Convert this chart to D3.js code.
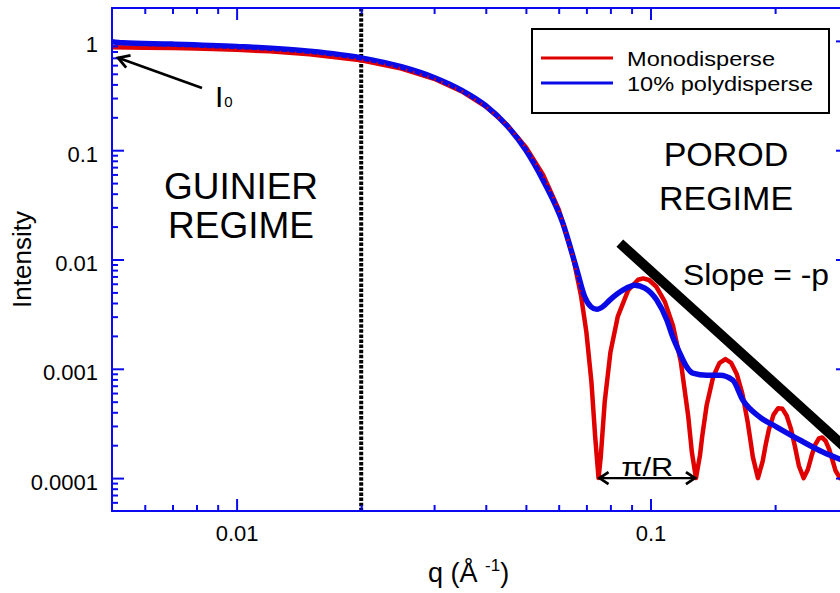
<!DOCTYPE html>
<html><head><meta charset="utf-8">
<script src="https://cdn.jsdelivr.net/npm/d3@7"></script>
<style>
html,body{margin:0;padding:0;background:#fff;}
svg{display:block;font-family:"Liberation Sans",Arial,sans-serif;}
</style></head>
<body>
<svg id="chart" width="840" height="593"></svg>
<script>
// ---------- data ----------
const monoQ = [0.005,0.006,0.007,0.008,0.010,0.012,0.015,0.020,0.025,0.030,0.035,0.040,0.045,0.050,0.055,0.060,0.065,0.068,0.070,0.072,0.0735,0.07489,0.07583,0.0775,0.080,0.08333,0.08833,0.09333,0.096,0.09917,0.10333,0.10833,0.11333,0.11833,0.12333,0.125,0.12583,0.12876,0.13167,0.13333,0.13667,0.14167,0.14667,0.15167,0.15667,0.16167,0.16667,0.17167,0.175,0.17667,0.18174,0.18667,0.19,0.19333,0.19833,0.20333,0.20833,0.21333,0.21833,0.22333,0.22833,0.23444,0.24,0.245,0.25,0.255,0.26,0.265,0.27,0.275,0.28,0.28701,0.29333,0.30];
const monoI = [0.8743,0.8673,0.8592,0.8500,0.8280,0.8026,0.7555,0.6633,0.5589,0.4504,0.3456,0.2507,0.1702,0.1064,0.05974,0.02866,0.01056,0.004575,0.002158,0.000752,0.000240,0.0001,0.000157,0.000497,0.001413,0.002997,0.005238,0.006527,0.006709,0.006491,0.005629,0.004094,0.002478,0.001167,0.0003686,0.0002237,0.0001736,0.0001,0.0001612,0.0002417,0.000465,0.0008432,0.001127,0.001228,0.001131,0.0008899,0.0005932,0.0003264,0.0002008,0.0001564,0.0001,0.0001429,0.0002065,0.0002809,0.0003805,0.0004353,0.0004301,0.000372,0.0002838,0.0001946,0.000129,0.0001,0.0001199,0.00016,0.000202,0.0002302,0.0002355,0.0002178,0.0001845,0.0001472,0.0001167,0.0001,0.0001114,0.0001376];

const polyQ = [0.005,0.0053,0.007,0.010,0.015,0.020,0.025,0.030,0.035,0.040,0.045,0.050,0.055,0.0614,0.0664,0.0694,0.0718,0.0742,0.0770,0.0797,0.0857,0.0916,0.0969,0.1035,0.1095,0.1132,0.1177,0.1224,0.1265,0.1368,0.1471,0.1580,0.1671,0.1837,0.2019,0.2294,0.2607,0.2996];
const polyI = [0.985,0.96,0.935,0.89,0.805,0.70,0.58,0.462,0.352,0.255,0.168,0.100,0.0532,0.0215,0.0080,0.00453,0.0037,0.00350,0.00375,0.00425,0.00524,0.00582,0.00547,0.00425,0.00279,0.00195,0.00139,0.001035,0.000914,0.000875,0.000875,0.000788,0.000518,0.000362,0.000293,0.000223,0.000173,0.00014];

const slopeQ = [0.0843,0.30];
const slopeI = [0.01412,0.000181];

const guinierQ = 0.02;
const piRQ = [0.07489,0.12876];
const piRI = 0.0001;
const i0Arrow = {tail:[0.00825,0.371], tip:[0.00517,0.70]};

const xMajor = [0.01,0.1];
const xMinor = [0.006,0.007,0.008,0.009,0.02,0.03,0.04,0.05,0.06,0.07,0.08,0.09,0.2];
const yMajor = [1,0.1,0.01,0.001,0.0001];
const yMinorMult = [2,3,4,5,6,7,8,9];
const yDecades = [1e-5,1e-4,1e-3,1e-2,1e-1,1];
const yLabels = ["1","0.1","0.01","0.001","0.0001"];
const xLabels = ["0.01","0.1"];

const seriesNames = ["Monodisperse","10% polydisperse"];

// ---------- chart ----------
const yMinor = [];
yDecades.forEach(d=>yMinorMult.forEach(k=>{const v=d*k; if(v>5e-5 && v<2) yMinor.push(v);}));

const svg = d3.select("#chart");
const L=112, R=848, T=8, B=511;
const x = d3.scaleLog().domain([0.005,0.3]).range([L,R]);
const y = d3.scaleLog().domain([5e-5,2]).range([B,T]);
const AX = "#0a0af0", RED="#e00000", BLUE="#0a0ae6";
const FONT = '"Liberation Sans",Arial,sans-serif';

const defs = svg.append("defs");
defs.append("clipPath").attr("id","plotclip")
  .append("rect").attr("x",L).attr("y",T).attr("width",R-L).attr("height",B-T);

const plot = svg.append("g").attr("clip-path","url(#plotclip)");

// guinier boundary dotted line
plot.append("line").attr("x1",x(guinierQ)).attr("x2",x(guinierQ)).attr("y1",T).attr("y2",B)
  .attr("stroke","#000").attr("stroke-width",4).attr("stroke-dasharray","3.5,1.6");

const line = d3.line().x(d=>x(d[0])).y(d=>y(d[1]));
const mono = monoQ.map((q,i)=>[q,monoI[i]]);
const poly = polyQ.map((q,i)=>[q,polyI[i]]);

plot.append("path").datum(mono).attr("d",line).attr("fill","none").attr("stroke",RED).attr("stroke-width",4.5).attr("stroke-linejoin","round");
plot.append("path").datum(poly).attr("d",d3.line().x(d=>x(d[0])).y(d=>y(d[1])).curve(d3.curveMonotoneX)).attr("fill","none").attr("stroke",BLUE).attr("stroke-width",5.5).attr("stroke-linejoin","round");
plot.append("path").datum(mono.filter(d=>d[0]>0.005 && d[0]<0.072)).attr("d",line).attr("fill","none").attr("stroke",RED).attr("stroke-width",3).attr("stroke-dasharray","1.5,6");

// slope line
plot.append("line").attr("x1",x(slopeQ[0])).attr("y1",y(slopeI[0])).attr("x2",x(slopeQ[1])).attr("y2",y(slopeI[1]))
  .attr("stroke","#000").attr("stroke-width",10);

// ---------- axes ----------
function styleAxis(g){
  g.select(".domain").remove();
  g.selectAll(".tick line").attr("stroke",AX).attr("stroke-width",2);
  g.selectAll("text").attr("fill","#000").attr("font-size",22).attr("font-family",FONT);
}
svg.append("g").attr("transform",`translate(0,${B})`)
  .call(d3.axisBottom(x).tickValues(xMajor).tickFormat((d,i)=>xLabels[i]).tickSizeInner(-12).tickSizeOuter(0).tickPadding(14))
  .call(styleAxis);
svg.append("g").attr("transform",`translate(0,${B})`)
  .call(d3.axisBottom(x).tickValues(xMinor).tickFormat("").tickSizeInner(-6).tickSizeOuter(0))
  .call(styleAxis);
svg.append("g").attr("transform",`translate(0,${T})`)
  .call(d3.axisTop(x).tickValues(xMajor).tickFormat("").tickSizeInner(-12).tickSizeOuter(0)).call(styleAxis);
svg.append("g").attr("transform",`translate(0,${T})`)
  .call(d3.axisTop(x).tickValues(xMinor).tickFormat("").tickSizeInner(-6).tickSizeOuter(0)).call(styleAxis);

const yAx = svg.append("g").attr("transform",`translate(${L},0)`)
  .call(d3.axisLeft(y).tickValues(yMajor).tickFormat((d,i)=>yLabels[i]).tickSizeInner(-12).tickSizeOuter(0).tickPadding(14))
  .call(styleAxis);
yAx.selectAll("text").attr("dy","0.5em");
svg.append("g").attr("transform",`translate(${L},0)`)
  .call(d3.axisLeft(y).tickValues(yMinor).tickFormat("").tickSizeInner(-6).tickSizeOuter(0)).call(styleAxis);
svg.append("g").attr("transform",`translate(${R},0)`)
  .call(d3.axisRight(y).tickValues(yMajor).tickFormat("").tickSizeInner(-12).tickSizeOuter(0)).call(styleAxis);
svg.append("g").attr("transform",`translate(${R},0)`)
  .call(d3.axisRight(y).tickValues(yMinor).tickFormat("").tickSizeInner(-6).tickSizeOuter(0)).call(styleAxis);

// frame
svg.append("rect").attr("x",L).attr("y",T).attr("width",R-L).attr("height",B-T)
  .attr("fill","none").attr("stroke",AX).attr("stroke-width",2);

// axis titles
svg.append("text").attr("transform",`translate(31,${(T+B)/2}) rotate(-90)`).attr("text-anchor","middle")
  .attr("font-size",26).attr("font-family",FONT).text("Intensity");
const xt = svg.append("text").attr("x",428).attr("y",582).attr("font-size",27).attr("font-family",FONT);
xt.append("tspan").text("q (Å ");
xt.append("tspan").attr("font-size",17).attr("dy",-11).text("-1");
xt.append("tspan").attr("dy",11).text(")");

// region labels
function label(txt,cx,by,fs,anchor,len){
  const t = svg.append("text").attr("x",cx).attr("y",by).attr("text-anchor",anchor||"middle").attr("font-size",fs).attr("font-family",FONT).attr("fill","#000").text(txt);
  if(len) t.attr("textLength",len).attr("lengthAdjust","spacingAndGlyphs");
  return t;
}
label("GUINIER",241,199,37);
label("REGIME",241,238,37);
label("POROD",726,166,34);
label("REGIME",726,210,34);
label("Slope = -p",683,285,29,"start",146);

// arrows
function arrowHead(g,tip,from,len,half){
  const dx=tip[0]-from[0], dy=tip[1]-from[1], d=Math.hypot(dx,dy), ux=dx/d, uy=dy/d;
  const bx=tip[0]-ux*len, by=tip[1]-uy*len;
  g.append("path").attr("d",`M${bx-uy*half},${by+ux*half}L${tip[0]},${tip[1]}L${bx+uy*half},${by-ux*half}`)
    .attr("fill","none").attr("stroke","#000").attr("stroke-width",2.8).attr("stroke-linejoin","miter");
}
const ann = svg.append("g");
const tail=[x(i0Arrow.tail[0]),y(i0Arrow.tail[1])], tip=[x(i0Arrow.tip[0]),y(i0Arrow.tip[1])];
ann.append("line").attr("x1",tail[0]).attr("y1",tail[1]).attr("x2",tip[0]).attr("y2",tip[1]).attr("stroke","#000").attr("stroke-width",2.6);
arrowHead(ann,tip,tail,11,6.5);
const i0 = svg.append("text").attr("x",215).attr("y",107).attr("font-size",30).attr("font-family",FONT);
i0.append("tspan").text("I");
i0.append("tspan").attr("font-size",15).attr("dx",1).text("0");

// pi/R annotation
const pa=[x(piRQ[0])+1,y(piRI)], pb=[x(piRQ[1])-1,y(piRI)];
ann.append("line").attr("x1",pa[0]).attr("x2",pb[0]).attr("y1",pa[1]).attr("y2",pb[1]).attr("stroke","#000").attr("stroke-width",2.4);
arrowHead(ann,pa,pb,9,6);
arrowHead(ann,pb,pa,9,6);
label("π/R",(x(piRQ[0])+x(piRQ[1]))/2,476,25,"middle",52);

// legend
const lg = svg.append("g");
lg.append("rect").attr("x",532).attr("y",29).attr("width",297).attr("height",84).attr("fill","#fff").attr("stroke","#000").attr("stroke-width",2);
const legLen=[148,186];
[RED,BLUE].forEach((c,i)=>{
  lg.append("line").attr("x1",541).attr("x2",613).attr("y1",58+25*i).attr("y2",58+25*i).attr("stroke",c).attr("stroke-width",3);
  lg.append("text").attr("x",627).attr("y",66+25*i).attr("font-size",20).attr("font-family",FONT)
    .attr("textLength",legLen[i]).attr("lengthAdjust","spacingAndGlyphs").text(seriesNames[i]);
});
</script>
</body></html>
